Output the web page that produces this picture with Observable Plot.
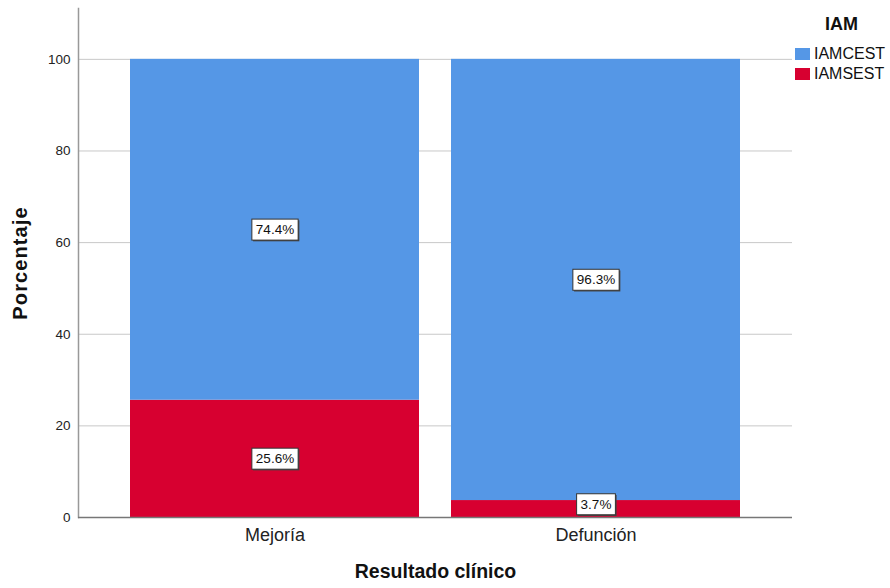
<!DOCTYPE html>
<html>
<head>
<meta charset="utf-8">
<script src="https://cdn.jsdelivr.net/npm/d3@7"></script>
<script src="https://cdn.jsdelivr.net/npm/@observablehq/plot@0.6"></script>
<style>
  html, body { margin: 0; padding: 0; background: #fff; }
  #wrap { position: relative; width: 890px; height: 588px; font-family: "Liberation Sans", Arial, sans-serif; }
  #legend { position: absolute; left: 795px; top: 14px; color: #111; }
  #legend .title { font-weight: bold; font-size: 18px; margin-left: 30px; margin-bottom: 9px; }
  #legend .item { display: flex; align-items: center; height: 20px; font-size: 16px; }
  #legend .sw { width: 15px; height: 12px; margin-right: 4px; }
  .ytitle { letter-spacing: 1.1px; }
</style>
</head>
<body>
<div id="wrap"></div>
<script>
const categories = ["Mejoría", "Defunción"];
const seriesNames = ["IAMCEST", "IAMSEST"];
const iamcest = [74.4, 96.3];
const iamsest = [25.6, 3.7];
const yTicks = [0, 20, 40, 60, 80, 100];
const colors = ["#5597e6", "#d70030"];
const legendTitle = "IAM";
const xTitle = "Resultado clínico";
const yTitle = "Porcentaje";

// rows: bottom segment (IAMSEST) first, then IAMCEST on top
const rows = [];
categories.forEach((c, i) => {
  rows.push({cat: c, serie: "IAMSEST", value: iamsest[i], base: 0});
  rows.push({cat: c, serie: "IAMCEST", value: iamcest[i], base: iamsest[i]});
});
const labels = rows.map(d => ({
  cat: d.cat,
  text: d.value.toFixed(1) + "%",
  y: Math.max(d.base + d.value / 2, 2.85)
}));

const plot = Plot.plot({
  width: 890,
  height: 588,
  marginLeft: 78,
  marginRight: 98,
  marginTop: 8,
  marginBottom: 71,
  style: {fontFamily: "Liberation Sans, Arial, sans-serif", background: "#fff"},
  x: {domain: categories, paddingInner: 0.1, paddingOuter: 0.16, label: null},
  y: {domain: [0, 111.1], label: null},
  color: {domain: seriesNames, range: colors},
  marks: [
    Plot.gridY(yTicks, {stroke: "#c8c8c8", strokeOpacity: 1, strokeWidth: 1}),
    Plot.barY(rows, Plot.stackY({x: "cat", y: "value", fill: "serie", order: ["IAMSEST", "IAMCEST"]})),
    Plot.axisY(yTicks, {tickSize: 0, tickPadding: 8, fontSize: 13.5, color: "#222", label: null}),
    Plot.axisX({tickSize: 0, tickPadding: 11, fontSize: 18, color: "#222", label: null}),
    Plot.frame({anchor: "left", stroke: "#999", strokeWidth: 1.5}),
    Plot.ruleY([0], {stroke: "#777", strokeWidth: 1.5}),
    Plot.text(labels, {x: "cat", y: "y", text: "text", fontSize: 13.5, fill: "#111", className: "seglabel"}),
    Plot.text([yTitle], {frameAnchor: "left", textAnchor: "middle", dx: -58, rotate: -90, fontSize: 20, fontWeight: "bold", fill: "#111", className: "ytitle"}),
    Plot.text([xTitle], {frameAnchor: "bottom", textAnchor: "middle", dy: 60, fontSize: 19.5, fontWeight: "bold", fill: "#111"})
  ]
});

const wrap = document.getElementById("wrap");
wrap.appendChild(plot);

// boxes behind segment labels
d3.select(plot).selectAll("g.seglabel text").each(function() {
  const b = this.getBBox();
  const t = this.getAttribute("transform");
  const g = this.parentNode;
  const padX = 4, padY = 3;
  const shadow = document.createElementNS("http://www.w3.org/2000/svg", "rect");
  const box = document.createElementNS("http://www.w3.org/2000/svg", "rect");
  for (const [r, off, fill, stroke] of [[shadow, 1.2, "#444", "none"], [box, 0, "#fff", "#333"]]) {
    r.setAttribute("x", b.x - padX + off);
    r.setAttribute("y", b.y - padY + off);
    r.setAttribute("width", b.width + 2 * padX);
    r.setAttribute("height", b.height + 2 * padY);
    r.setAttribute("fill", fill);
    r.setAttribute("stroke", stroke);
    r.setAttribute("stroke-width", 1);
    if (t) r.setAttribute("transform", t);
    g.insertBefore(r, this);
  }
});

// legend
const legend = document.createElement("div");
legend.id = "legend";
legend.innerHTML = `<div class="title">${legendTitle}</div>` +
  seriesNames.map((s, i) => `<div class="item"><span class="sw" style="background:${colors[i]}"></span>${s}</div>`).join("");
wrap.appendChild(legend);
</script>
</body>
</html>
